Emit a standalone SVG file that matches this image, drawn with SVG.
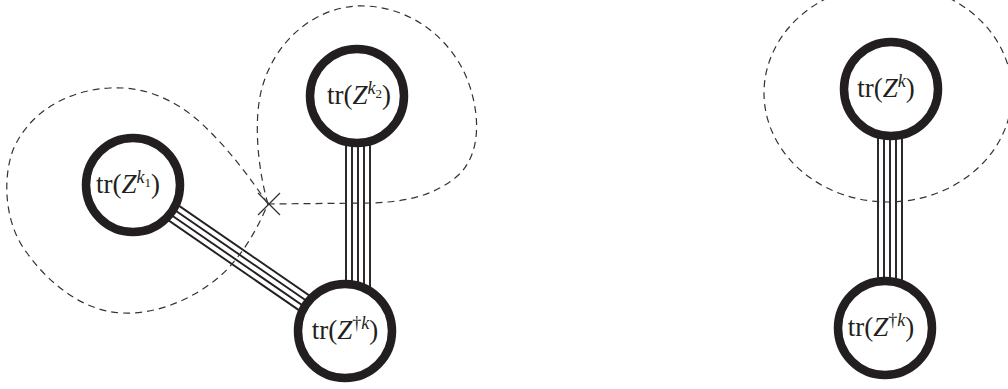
<svg xmlns="http://www.w3.org/2000/svg" width="1008" height="389" viewBox="0 0 1008 389">
<style>
.node{fill:#fff;stroke:#231f20;stroke-width:8.5}
.bund{stroke:#231f20;stroke-width:1.9;fill:none}
.dash{fill:none;stroke:#333;stroke-width:1.2;stroke-dasharray:7 5}
.cross{stroke:#333;stroke-width:1.2}
text{font-family:"Liberation Serif","Times New Roman",serif;font-size:27px;fill:#231f20}
.it{font-style:italic}
.sup{font-size:18px}
.sub{font-size:13px}
</style>
<rect width="1008" height="389" fill="#fff"/>
<g id="connectors">
  <g class="bund">
    <line x1="138.1" y1="177.6" x2="350.1" y2="323.6"/>
    <line x1="134.7" y1="182.5" x2="346.7" y2="328.5"/>
    <line x1="131.3" y1="187.5" x2="343.3" y2="333.5"/>
    <line x1="127.9" y1="192.4" x2="339.9" y2="338.4"/>
  </g>
  <g class="bund">
    <line x1="346" y1="100" x2="346" y2="330"/>
    <line x1="352" y1="100" x2="352" y2="330"/>
    <line x1="358" y1="100" x2="358" y2="330"/>
    <line x1="364" y1="100" x2="364" y2="330"/>
    <line x1="370" y1="100" x2="370" y2="330"/>
  </g>
  <g class="bund">
    <line x1="878" y1="90" x2="878" y2="328"/>
    <line x1="884" y1="90" x2="884" y2="328"/>
    <line x1="890" y1="90" x2="890" y2="328"/>
    <line x1="896" y1="90" x2="896" y2="328"/>
    <line x1="902" y1="90" x2="902" y2="328"/>
  </g>
</g>
<g id="cuts">
  <path class="dash" d="M268,204 C250,178 230,150 200,122 C175,100 145,86 110,88 C70,90 30,110 13,150 C2,180 5,225 27,253 C50,285 85,312 123,313 C165,315 210,290 232,264 C250,243 260,222 268,204"/>
  <path class="dash" d="M268,204 C258,170 253,120 262,88 C275,40 315,8 357,6 C410,4 455,40 470,87 C482,125 478,160 455,178 C430,198 400,202 370,203 L268,204"/>
  <ellipse class="dash" cx="888" cy="93" rx="124" ry="109"/>
  <g class="cross">
    <line x1="258" y1="193" x2="280" y2="215"/>
    <line x1="280" y1="193" x2="258" y2="215"/>
  </g>
</g>
<g id="node-k1">
  <circle class="node" cx="133" cy="185" r="47"/>
  <text x="128" y="193" text-anchor="middle">tr(<tspan class="it">Z</tspan><tspan class="it sup" dy="-10">k</tspan><tspan class="sub" dy="4">1</tspan><tspan dy="6">)</tspan></text>
</g>
<g id="node-k2">
  <circle class="node" cx="357" cy="96" r="47"/>
  <text x="359" y="104" text-anchor="middle">tr(<tspan class="it">Z</tspan><tspan class="it sup" dy="-10">k</tspan><tspan class="sub" dy="4">2</tspan><tspan dy="6">)</tspan></text>
</g>
<g id="node-zdag-left">
  <circle class="node" cx="345" cy="331" r="47"/>
  <text x="345" y="339" text-anchor="middle">tr(<tspan class="it">Z</tspan><tspan class="sup" dy="-10">†</tspan><tspan class="it sup">k</tspan><tspan dy="10">)</tspan></text>
</g>
<g id="node-k">
  <circle class="node" cx="891" cy="89" r="47"/>
  <text x="886" y="97" text-anchor="middle">tr(<tspan class="it">Z</tspan><tspan class="it sup" dy="-10">k</tspan><tspan dy="10">)</tspan></text>
</g>
<g id="node-zdag-right">
  <circle class="node" cx="885" cy="328" r="47"/>
  <text x="881" y="336" text-anchor="middle">tr(<tspan class="it">Z</tspan><tspan class="sup" dy="-10">†</tspan><tspan class="it sup">k</tspan><tspan dy="10">)</tspan></text>
</g>
</svg>
